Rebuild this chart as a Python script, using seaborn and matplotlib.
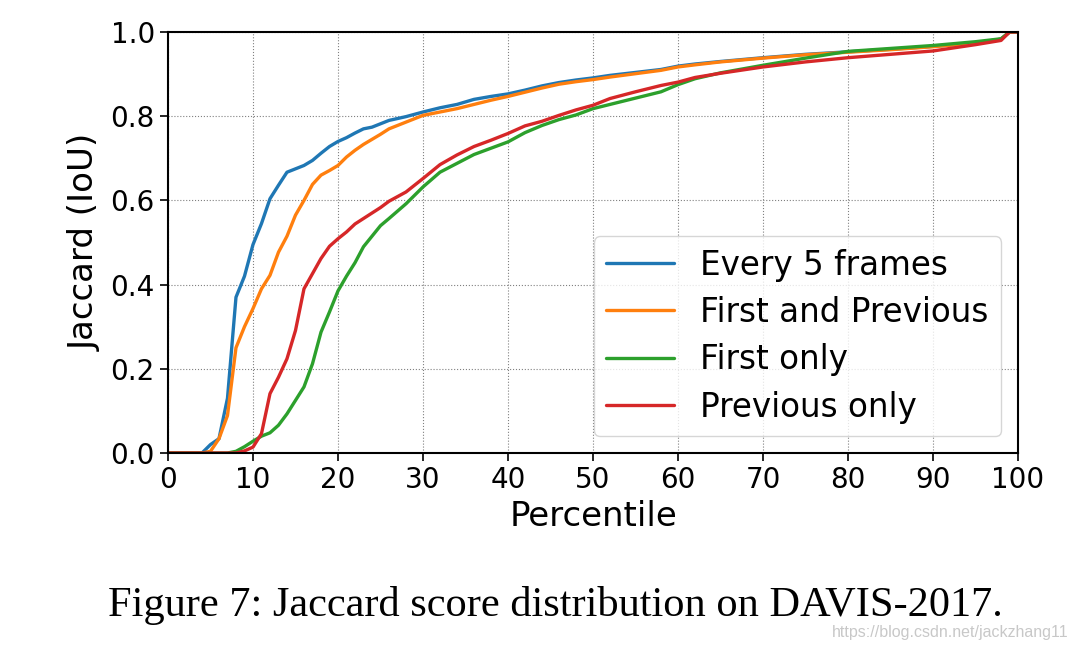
import numpy as np
import pandas as pd
import seaborn as sns
import matplotlib.pyplot as plt

percentile = [0, 4, 5, 6, 7, 8, 9, 10, 11, 12, 13, 14, 15, 16, 17, 18, 19, 20,
              21, 22, 23, 24, 25, 26, 28, 30, 32, 34, 36, 38, 40, 42, 44, 46,
              48, 50, 52, 55, 58, 60, 62, 65, 70, 75, 80, 85, 90, 95, 98, 99, 100]

every_5 = [0, 0, 0.02, 0.034, 0.13, 0.37, 0.42, 0.495, 0.545, 0.604, 0.636, 0.667,
           0.675, 0.683, 0.695, 0.712, 0.728, 0.740, 0.749, 0.760, 0.770, 0.774,
           0.782, 0.790, 0.799, 0.81, 0.82, 0.828, 0.84, 0.847, 0.853, 0.862,
           0.872, 0.880, 0.886, 0.891, 0.897, 0.904, 0.911, 0.919, 0.924, 0.930,
           0.939, 0.947, 0.953, 0.959, 0.966, 0.974, 0.983, 1.0, 1.0]

first_prev = [0, 0, 0.004, 0.034, 0.089, 0.25, 0.30, 0.343, 0.39, 0.422, 0.477,
              0.515, 0.565, 0.60, 0.638, 0.66, 0.671, 0.683, 0.703, 0.719, 0.733,
              0.745, 0.757, 0.770, 0.786, 0.802, 0.81, 0.818, 0.828, 0.838, 0.847,
              0.857, 0.867, 0.876, 0.882, 0.887, 0.893, 0.901, 0.909, 0.917, 0.922,
              0.929, 0.938, 0.946, 0.952, 0.958, 0.965, 0.974, 0.983, 1.0, 1.0]

first_only = [0, 0, 0, 0, 0, 0.004, 0.015, 0.028, 0.04, 0.048, 0.066, 0.093, 0.125,
              0.157, 0.212, 0.287, 0.335, 0.385, 0.42, 0.452, 0.49, 0.515, 0.54,
              0.557, 0.592, 0.632, 0.667, 0.688, 0.709, 0.724, 0.739, 0.761, 0.778,
              0.792, 0.803, 0.818, 0.828, 0.843, 0.858, 0.875, 0.889, 0.903, 0.921,
              0.938, 0.954, 0.961, 0.968, 0.977, 0.984, 1.0, 1.0]

prev_only = [0, 0, 0, 0, 0, 0, 0.005, 0.014, 0.046, 0.141, 0.18, 0.224, 0.291,
             0.39, 0.426, 0.462, 0.491, 0.509, 0.525, 0.544, 0.557, 0.570, 0.583,
             0.598, 0.620, 0.652, 0.685, 0.708, 0.728, 0.743, 0.759, 0.777, 0.788,
             0.802, 0.815, 0.826, 0.842, 0.858, 0.873, 0.881, 0.892, 0.902, 0.917,
             0.929, 0.939, 0.947, 0.955, 0.970, 0.98, 1.0, 1.0]

labels = ["Every 5 frames", "First and Previous", "First only", "Previous only"]

df = pd.DataFrame({"Percentile": percentile,
                   labels[0]: every_5, labels[1]: first_prev,
                   labels[2]: first_only, labels[3]: prev_only})
long_df = df.melt(id_vars="Percentile", var_name="method", value_name="Jaccard")

sns.set_style("ticks")
plt.rcParams['font.family'] = ['DejaVu Sans']
plt.rcParams['text.color'] = 'black'
plt.rcParams['axes.labelcolor'] = 'black'

fig = plt.figure(figsize=(10.74, 6.52), dpi=100)
ax = fig.add_axes([0.1564, 0.3052, 0.7915, 0.6457])

sns.lineplot(data=long_df, x="Percentile", y="Jaccard", hue="method",
             hue_order=labels, palette=sns.color_palette("tab10", 4),
             linewidth=2.4, ax=ax)

ax.set_xlim(0, 100)
ax.set_ylim(0, 1.0)
ax.set_xticks(np.arange(0, 101, 10))
ax.set_yticks(np.arange(0, 1.01, 0.2))
ax.set_yticklabels([f"{v:.1f}" for v in np.arange(0, 1.01, 0.2)])
ax.grid(True, linestyle=':', color='gray', linewidth=0.8)
ax.tick_params(labelsize=20, length=6, width=1.2, colors='black')
for s in ax.spines.values():
    s.set_visible(True)
    s.set_color('black')
    s.set_linewidth(1.5)
ax.set_xlabel("Percentile", fontsize=24.5, labelpad=4)
ax.set_ylabel("Jaccard (IoU)", fontsize=24.5, labelpad=6)

leg = ax.legend(loc="lower right", fontsize=23.5, frameon=True,
                handlelength=2.08, handletextpad=0.8, borderaxespad=0.52,
                labelspacing=0.44, borderpad=0.38)
leg.get_frame().set_edgecolor('#cccccc')
for t in leg.get_texts():
    t.set_color('black')

fig.text(0.517, 0.072, "Figure 7: Jaccard score distribution on DAVIS-2017.",
         ha='center', va='center', fontsize=30.5, family='Liberation Serif')
fig.text(0.995, 0.03, "https://blog.csdn.net/jackzhang11", ha='right',
         va='center', fontsize=11.5, color='#c8c8c8', family='Liberation Sans')

fig.savefig("out.png", dpi=100)
